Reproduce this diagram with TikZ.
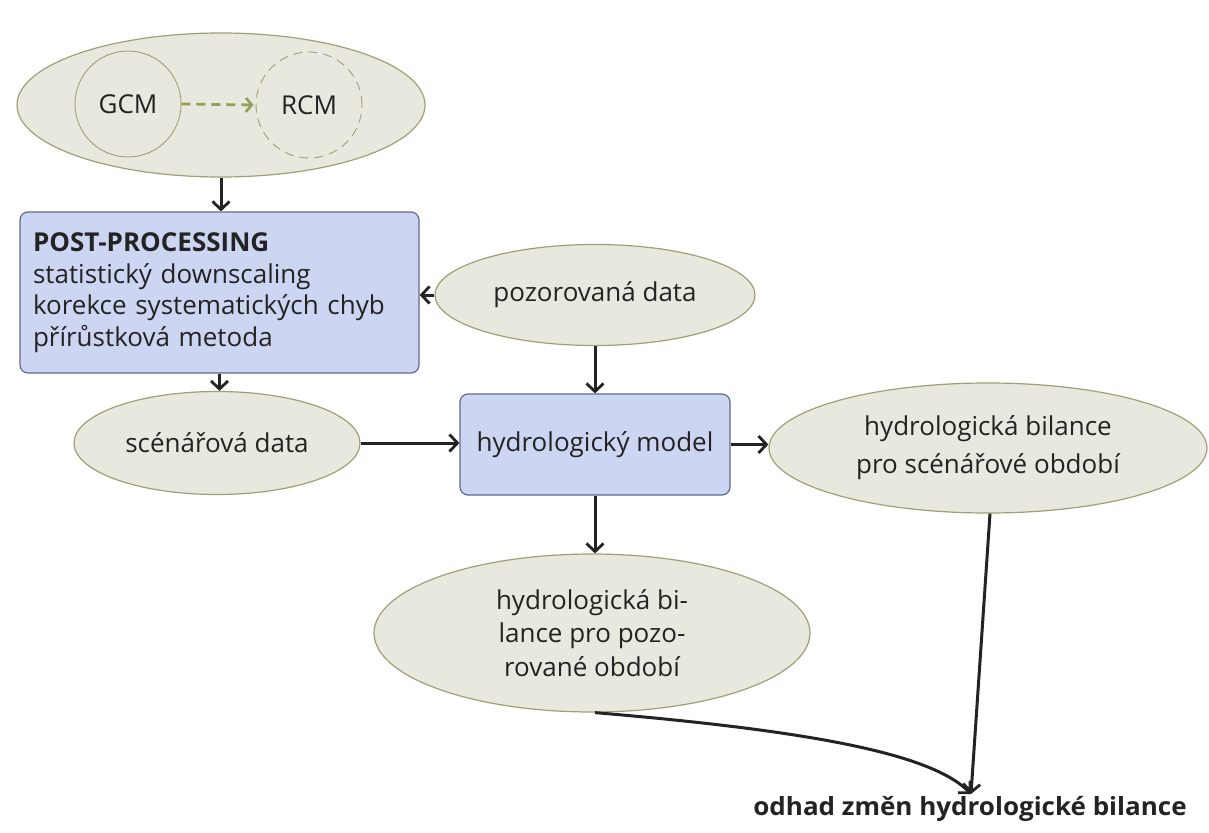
\documentclass[tikz,border=0pt]{standalone}
\usepackage{fontspec}
\setmainfont{Open Sans}
\usetikzlibrary{arrows.meta,shapes.geometric}
\definecolor{ellfill}{RGB}{232,232,222}
\definecolor{elldraw}{RGB}{160,160,118}
\definecolor{boxfill}{RGB}{204,214,242}
\definecolor{boxdraw}{RGB}{96,106,140}
\definecolor{olive}{RGB}{150,158,92}
\definecolor{ink}{RGB}{35,35,35}
\tikzset{
  ell/.style={ellipse, draw=elldraw, fill=ellfill, line width=1.2pt, inner sep=0pt, text=ink, align=center},
  procbox/.style={rectangle, rounded corners=8pt, draw=boxdraw, fill=boxfill, line width=1.2pt, inner sep=0pt, text=ink},
  ring/.style={circle, draw=elldraw, line width=0.9pt, minimum size=106pt, inner sep=0pt, text=ink},
  conn/.style={draw=ink, line width=3pt, -{Straight Barb[length=8pt,width=17pt,line width=2.8pt]}},
  txt/.style={font=\fontsize{26}{31.5}\selectfont}
}
\begin{document}
\begin{tikzpicture}[x=1pt,y=-1pt]
\useasboundingbox[fill=white] (0,0) rectangle (1209,832);
% top ellipse
\node[ell, minimum width=408pt, minimum height=144pt] (top) at (221,105) {};
\node[ring, txt] (gcm) at (128,104) {GCM};
\node[ring, txt, dashed, dash pattern=on 9pt off 6pt] (rcm) at (309,105) {RCM};
\draw[draw=olive, line width=2.8pt, dash pattern=on 9pt off 6pt,
  -{Straight Barb[length=6pt,width=14pt,line width=2.6pt]}] (gcm.east) -- ([xshift=-2pt]rcm.west);
% post-processing
\node[procbox, txt, minimum width=399pt, minimum height=161pt, text width=373pt, align=left]
  (pp) at (219.5,292.5) {\textbf{POST-PROCESSING}\\statistický downscaling\\korekce systematických chyb\\přírůstková metoda};
% observed data
\node[ell, txt, minimum width=320pt, minimum height=101pt] (poz) at (595,295) {pozorovaná data};
% scenario data
\node[ell, txt, minimum width=286pt, minimum height=103pt] (scen) at (217,443) {scénářová data};
% hydrological model
\node[procbox, txt, minimum width=270pt, minimum height=101pt] (model) at (595,444.5) {hydrologický model};
% right ellipse
\node[ell, font=\fontsize{26}{38}\selectfont, minimum width=438pt, minimum height=130pt] (right) at (988,448)
  {hydrologická bilance\\pro scénářové období};
% bottom ellipse
\node[ell, font=\fontsize{26}{33.5}\selectfont, minimum width=436pt, minimum height=158pt] (bot) at (592,633)
  {\rule{0pt}{8pt}hydrologická bi-\\lance pro pozo-\\rované období};
% output
\node[text=ink, font=\fontsize{25}{28}\selectfont\bfseries, anchor=north, inner sep=0pt] (out) at (970,796)
  {\scalebox{1.04}[1]{odhad změn hydrologické bilance}};
\coordinate (tip) at (971,794);
% connectors
\draw[conn] (top.south) -- (top.south |- pp.north);
\draw[conn] (pp.south) -- (pp.south |- scen.north);
\draw[conn] (poz.west) -- (poz.west -| pp.east);
\draw[conn] (poz.south) -- (model.north);
\draw[conn] (scen.east) -- (scen.east -| model.west);
\draw[conn] (model.east) -- (model.east -| right.west);
\draw[conn] (model.south) -- (model.south |- bot.north);
\draw[conn] ([xshift=2pt]right.south) -- (tip);
\draw[conn] ([xshift=3pt]bot.south) .. controls (800,730) and (930,752) .. (tip);
\end{tikzpicture}
\end{document}
